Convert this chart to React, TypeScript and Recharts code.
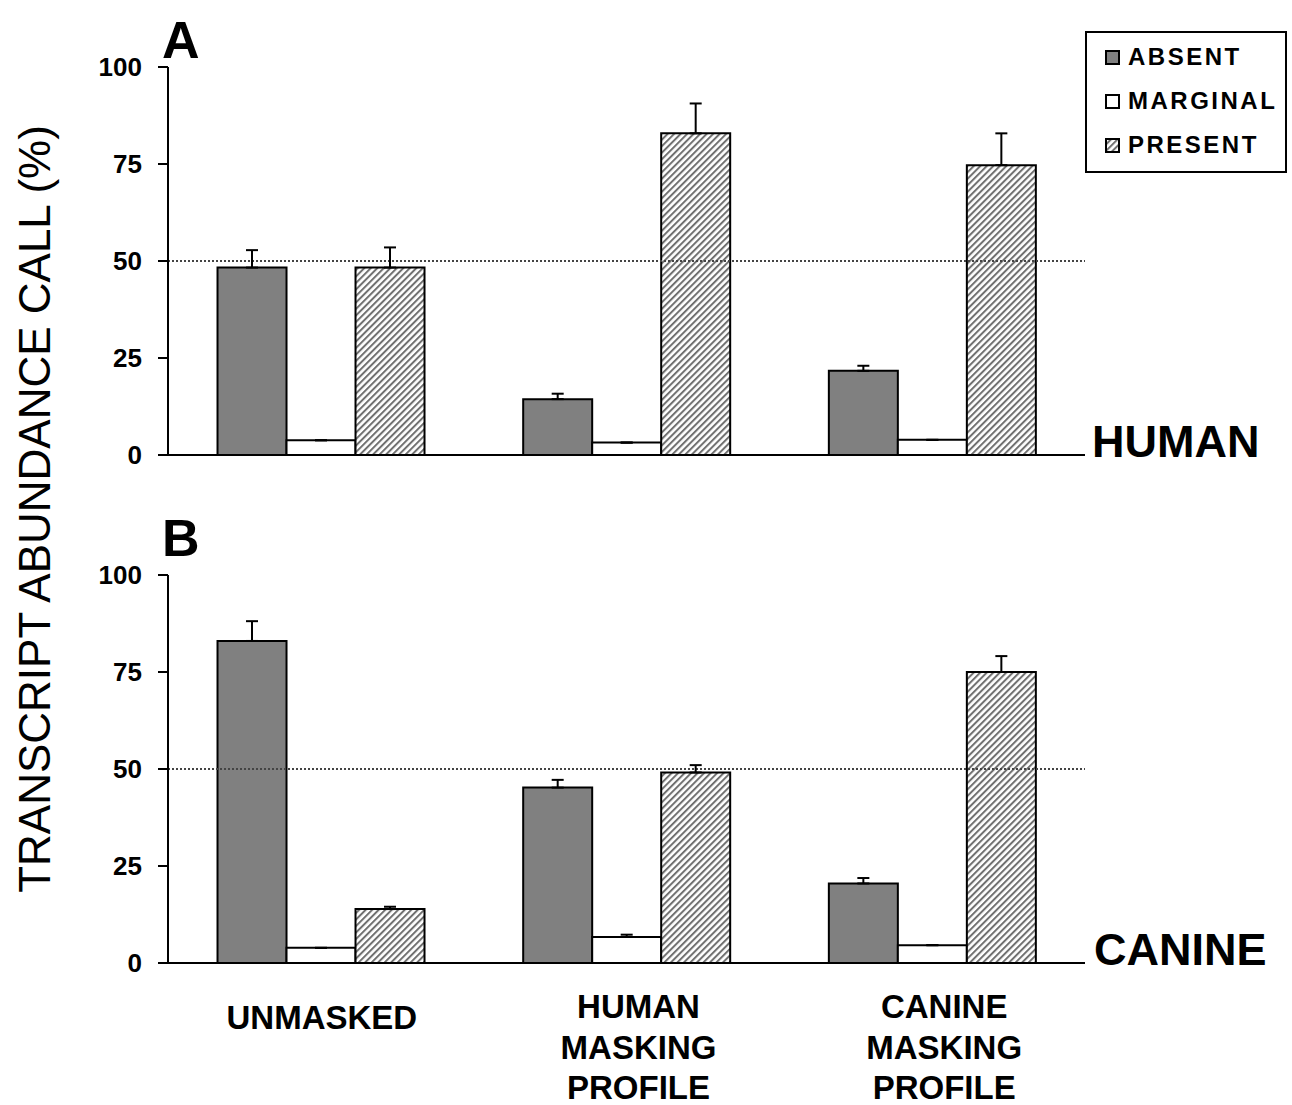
import React from 'react';
import { BarChart, Bar, XAxis, YAxis, ErrorBar, ReferenceLine } from 'recharts';

const categories = ['UNMASKED', 'HUMAN MASKING PROFILE', 'CANINE MASKING PROFILE'];
const categoryLines = [['UNMASKED'], ['HUMAN', 'MASKING', 'PROFILE'], ['CANINE', 'MASKING', 'PROFILE']];
const seriesNames = ['ABSENT', 'MARGINAL', 'PRESENT'];
const yTicks = [0, 25, 50, 75, 100];

const humanAbsent = [48.3, 14.4, 21.7];
const humanAbsentErr = [4.5, 1.4, 1.3];
const humanMarginal = [3.8, 3.2, 3.9];
const humanMarginalErr = [0, 0, 0];
const humanPresent = [48.3, 82.9, 74.7];
const humanPresentErr = [5.2, 7.7, 8.2];

const canineAbsent = [83.0, 45.2, 20.5];
const canineAbsentErr = [5.1, 2.0, 1.4];
const canineMarginal = [3.9, 6.7, 4.6];
const canineMarginalErr = [0, 0.6, 0];
const caninePresent = [13.9, 49.1, 75.0];
const caninePresentErr = [0.6, 1.9, 4.1];

const build = (a: number[], ae: number[], m: number[], me: number[], p: number[], pe: number[]) =>
  categories.map((c, i) => ({
    name: c,
    absent: a[i],
    absentErr: [0, ae[i]],
    marginal: m[i],
    marginalErr: [0, me[i]],
    present: p[i],
    presentErr: [0, pe[i]],
  }));

const humanData = build(humanAbsent, humanAbsentErr, humanMarginal, humanMarginalErr, humanPresent, humanPresentErr);
const canineData = build(canineAbsent, canineAbsentErr, canineMarginal, canineMarginalErr, caninePresent, caninePresentErr);

const FONT = 'Liberation Sans, Arial, Helvetica, sans-serif';
const GRAY = '#808080';
const HATCH = 'url(#hatch)';
const fills = [GRAY, '#ffffff', HATCH];

const CatTick = (props: any) => {
  const { x, y, index } = props;
  const lines = categoryLines[index] || [];
  const multi = lines.length > 1;
  const dx = multi ? 12 : 1;
  const first = multi ? 55 : 66;
  return (
    <g>
      {lines.map((l, k) => (
        <text key={k} x={x + dx} y={y + first + k * 40.5} textAnchor="middle" fontFamily={FONT}
          fontWeight="bold" fontSize={33} fill="#000">{l}</text>
      ))}
    </g>
  );
};

const Panel = ({ data, height, top, showCats }: { data: any[]; height: number; top: number; showCats: boolean }) => (
  <BarChart width={1292} height={height} data={data}
    margin={{ top, right: 207, left: 0, bottom: 0 }} barCategoryGap="16.2%" barGap={0}>
    <XAxis dataKey="name" axisLine={{ stroke: '#000', strokeWidth: 2 }} tickLine={false}
      tickSize={0} tickMargin={0} height={showCats ? 142 : 45}
      tick={showCats ? <CatTick /> : false} interval={0} />
    <YAxis domain={[0, 100]} ticks={yTicks} width={168} axisLine={{ stroke: '#000', strokeWidth: 2 }}
      tickLine={{ stroke: '#000', strokeWidth: 2 }} tickSize={10} tickMargin={16}
      tick={{ fill: '#000', fontFamily: FONT, fontWeight: 'bold', fontSize: 26 }} allowDataOverflow />
    <ReferenceLine y={50} stroke="#444" strokeDasharray="2 2" strokeWidth={2} ifOverflow="extendDomain" />
    <Bar dataKey="absent" fill={fills[0]} stroke="#000" strokeWidth={2} isAnimationActive={false}>
      <ErrorBar dataKey="absentErr" direction="y" width={6} stroke="#000" strokeWidth={2} isAnimationActive={false} />
    </Bar>
    <Bar dataKey="marginal" fill={fills[1]} stroke="#000" strokeWidth={2} isAnimationActive={false}>
      <ErrorBar dataKey="marginalErr" direction="y" width={6} stroke="#000" strokeWidth={2} isAnimationActive={false} />
    </Bar>
    <Bar dataKey="present" fill={fills[2]} stroke="#000" strokeWidth={2} isAnimationActive={false}>
      <ErrorBar dataKey="presentErr" direction="y" width={6} stroke="#000" strokeWidth={2} isAnimationActive={false} />
    </Bar>
  </BarChart>
);

const legendBaselines = [65, 109, 153];

export default function App() {
  return (
    <div style={{ position: 'absolute', left: 0, top: 0, width: 1292, height: 1105, background: '#fff', overflow: 'hidden' }}>
      <svg width={1} height={1} style={{ position: 'absolute', left: 0, top: 0 }}>
        <defs>
          <pattern id="hatch" patternUnits="userSpaceOnUse" width={4.6} height={4.6} patternTransform="rotate(45)">
            <rect x={0} y={0} width={4.6} height={4.6} fill="#fff" />
            <rect x={0} y={0} width={2} height={4.6} fill="#707070" />
          </pattern>
        </defs>
      </svg>
      <div style={{ position: 'absolute', left: 0, top: 0 }}>
        <Panel data={humanData} height={500} top={67} showCats={false} />
      </div>
      <div style={{ position: 'absolute', left: 0, top: 500 }}>
        <Panel data={canineData} height={605} top={75} showCats={true} />
      </div>
      <svg width={1292} height={1105} style={{ position: 'absolute', left: 0, top: 0, pointerEvents: 'none' }}>
        <text x={50} y={509} transform="rotate(-90 50 509)" textAnchor="middle" fontFamily={FONT} fontSize={44} fill="#000">
          TRANSCRIPT ABUNDANCE CALL (%)
        </text>
        <text x={162} y={58} fontFamily={FONT} fontWeight="bold" fontSize={52} fill="#000">A</text>
        <text x={162} y={556} fontFamily={FONT} fontWeight="bold" fontSize={52} fill="#000">B</text>
        <text x={1092} y={457} fontFamily={FONT} fontWeight="bold" fontSize={45} fill="#000">HUMAN</text>
        <text x={1094} y={965} fontFamily={FONT} fontWeight="bold" fontSize={45} fill="#000">CANINE</text>
        <rect x={1086} y={32} width={200} height={140} fill="#fff" stroke="#000" strokeWidth={2} />
        {seriesNames.map((n, i) => (
          <g key={n}>
            <rect x={1106} y={legendBaselines[i] - 14} width={13} height={13} fill={fills[i]} stroke="#000" strokeWidth={2} />
            <text x={1128} y={legendBaselines[i]} fontFamily={FONT} fontWeight="bold" fontSize={24}
              letterSpacing={2.5} fill="#000">{n}</text>
          </g>
        ))}
      </svg>
    </div>
  );
}
